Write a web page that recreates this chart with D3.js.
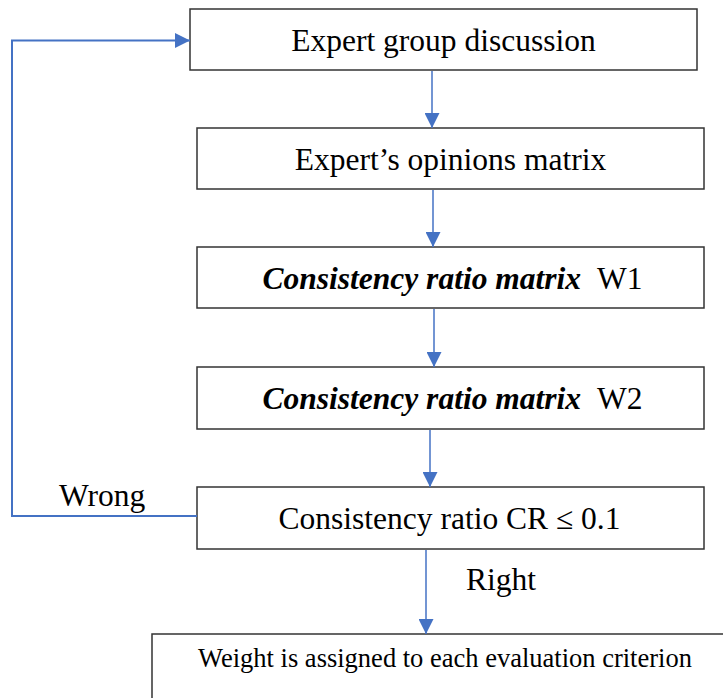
<!DOCTYPE html>
<html>
<head>
<meta charset="utf-8">
<script src="https://cdn.jsdelivr.net/npm/d3@7.9.0/dist/d3.min.js"></script>
<style>
  body { margin: 0; background: #fff; }
  svg { display: block; }
</style>
</head>
<body>
<svg width="723" height="698"></svg>
<script>
// flowchart content
const steps = [
  'Expert group discussion',
  'Expert\u2019s opinions matrix',
  'Consistency ratio matrix',
  'Consistency ratio matrix',
  'Consistency ratio CR \u2264 0.1',
  'Weight is assigned to each evaluation criterion'
];
const suffixes = ['', '', 'W1', 'W2', '', ''];
const emphasis = [false, false, true, true, false, false];
const branchLabels = ['Wrong', 'Right'];

// layout (boxes are left/top/right/bottom in px)
const boxes = [
  [190, 9, 697, 70],
  [197, 128, 704, 189],
  [197, 247, 704, 308],
  [197, 367, 704, 429],
  [197, 487, 704, 549],
  [152, 634, 740, 720]
];
const textShift = [0, 0, 2, 2, -1];
const arrowX = [432, 433, 434, 430, 426];
const blue = '#4472c4';
const serif = "'Liberation Serif', 'Times New Roman', serif";

const svg = d3.select('svg');

svg.append('defs').append('marker')
  .attr('id', 'head')
  .attr('viewBox', '0 0 10 10')
  .attr('refX', 10).attr('refY', 5)
  .attr('markerWidth', 15).attr('markerHeight', 15)
  .attr('markerUnits', 'userSpaceOnUse')
  .attr('orient', 'auto')
  .append('path')
  .attr('d', 'M0,0L10,5L0,10Z')
  .attr('fill', blue);

svg.selectAll('rect.box')
  .data(boxes)
  .join('rect')
  .attr('class', 'box')
  .attr('x', (d) => d[0])
  .attr('y', (d) => d[1])
  .attr('width', (d) => d[2] - d[0])
  .attr('height', (d) => d[3] - d[1])
  .attr('fill', 'none')
  .attr('stroke', '#333')
  .attr('stroke-width', 1.5);

let labels = svg.selectAll('text.step')
  .data(steps)
  .join('text')
  .attr('class', 'step')
  .attr('x', (d, i) => i === 5 ? 445 : (boxes[i][0] + boxes[i][2]) / 2 + textShift[i])
  .attr('y', (d, i) => i === 5 ? 667 : (boxes[i][1] + boxes[i][3]) / 2 + 11)
  .attr('text-anchor', 'middle')
  .attr('font-family', serif)
  .attr('font-size', (d, i) => i === 5 ? 26.5 : 31.5)
  .attr('fill', '#000');

labels.each(function (d, i) {
  let t = d3.select(this);
  t.append('tspan')
    .attr('font-weight', emphasis[i] ? 'bold' : null)
    .attr('font-style', emphasis[i] ? 'italic' : null)
    .text(d);
  if (suffixes[i]) {
    t.append('tspan').attr('dx', 16).text(suffixes[i]);
  }
});

// straight down arrows between boxes
arrowX.forEach((x, i) => {
  svg.append('line')
    .attr('x1', x).attr('x2', x)
    .attr('y1', boxes[i][3] + 1)
    .attr('y2', boxes[i + 1][1])
    .attr('stroke', blue)
    .attr('stroke-width', 1.5)
    .attr('marker-end', 'url(#head)');
});

// feedback loop back to the discussion
let loopY = (boxes[4][1] + boxes[4][3]) / 2 - 2;
let topY = (boxes[0][1] + boxes[0][3]) / 2 + 1;
svg.append('path')
  .attr('d', d3.line()([[boxes[4][0], loopY], [12, loopY], [12, topY], [boxes[0][0], topY]]))
  .attr('fill', 'none')
  .attr('stroke', blue)
  .attr('stroke-width', 2)
  .attr('marker-end', 'url(#head)');

svg.append('text')
  .attr('x', 59).attr('y', 506)
  .attr('font-family', serif)
  .attr('font-size', 31.5)
  .text(branchLabels[0]);

svg.append('text')
  .attr('x', 466).attr('y', 590)
  .attr('font-family', serif)
  .attr('font-size', 31.5)
  .text(branchLabels[1]);
</script>
</body>
</html>
